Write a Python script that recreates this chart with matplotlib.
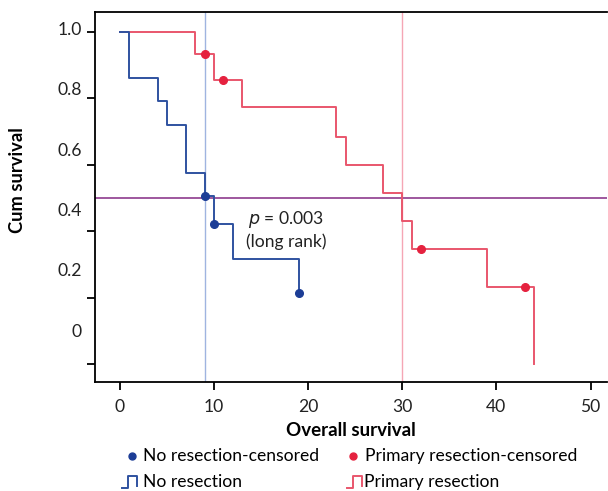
import matplotlib
matplotlib.use("Agg")
import matplotlib.pyplot as plt
from matplotlib.lines import Line2D

plt.rcParams['font.family'] = ['Lato', 'DejaVu Sans']

# Data
no_res_t = [0, 1, 4, 5, 7, 9, 10, 12, 19]
no_res_s = [1.0, 0.862, 0.792, 0.719, 0.576, 0.507, 0.423, 0.316, 0.213]
no_res_cens_t = [9, 10, 19]
no_res_cens_s = [0.507, 0.423, 0.213]

prim_t = [0, 8, 10, 13, 23, 24, 28, 30, 31, 39, 44]
prim_s = [1.0, 0.934, 0.856, 0.773, 0.685, 0.600, 0.516, 0.430, 0.345, 0.233, 0.0]
prim_cens_t = [9, 11, 32, 43]
prim_cens_s = [0.934, 0.856, 0.345, 0.233]

median_line = 0.5
median_no_res = 9
median_prim = 30

xticks = [0, 10, 20, 30, 40, 50]
ytick_vals = [1.0, 0.8, 0.6, 0.4, 0.2, 0.0]
ytick_labels = ['1.0', '0.8', '0.6', '0.4', '0.2', '0']

blue_line = '#2f52a0'
blue_dot = '#1c3d96'
red_line = '#e9566c'
red_dot = '#e5223f'
txt = '#222222'
FS = 12.6

fig = plt.figure(figsize=(6.08, 4.91), dpi=100)
W, H = 608, 491
ax = fig.add_axes([95 / W, 1 - 382 / H, (607 - 95) / W, (382 - 12) / H])
ax.set_xlim(-2.65, 51.75)
ax.set_ylim(-0.054, 1.060)

ax.axvline(median_no_res, color='#9fb4e0', lw=1.0, zorder=1)
ax.axvline(median_prim, color='#f5a6b5', lw=1.0, zorder=1)
ax.axhline(median_line, color='#8e3b8e', lw=1.2, zorder=1)

ax.step(prim_t, prim_s, where='post', color=red_line, lw=1.4, zorder=2)
ax.step(no_res_t, no_res_s, where='post', color=blue_line, lw=1.4, zorder=3)
ax.plot(prim_cens_t, prim_cens_s, 'o', color=red_dot, ms=5.5, zorder=4)
ax.plot(no_res_cens_t, no_res_cens_s, 'o', color=blue_dot, ms=5.5, zorder=4)

ax.text(17.7, 0.434, r'$p$ = 0.003', ha='center', va='center', fontsize=FS, color=txt)
ax.text(17.7, 0.368, '(long rank)', ha='center', va='center', fontsize=FS, color=txt)

for s in ['top', 'left', 'bottom']:
    ax.spines[s].set_linewidth(1.3)
ax.spines['right'].set_visible(False)

ax.set_xticks(xticks)
ax.set_xticklabels([str(v) for v in xticks], fontsize=FS, color=txt)
ax.tick_params(axis='x', length=6, width=1.3, pad=6)
ax.set_yticks(ytick_vals)
ax.set_yticklabels([''] * len(ytick_vals))
ax.tick_params(axis='y', length=6, width=1.3)

# y tick labels (offset from tick marks as in the reference)
for i, lab in enumerate(ytick_labels):
    ax.text(-0.026, 1.006 - i * 0.1817, lab, transform=ax.get_yaxis_transform(),
            ha='right', va='center', fontsize=FS, color=txt)

ax.set_xlabel('Overall survival', fontsize=13.5, fontweight='bold', labelpad=5)
fig.text(18 / W, 1 - 180 / H, 'Cum survival', rotation=90, ha='center', va='center',
         fontsize=13.2, fontweight='bold')

# Legend (manual)
def fx(px):
    return px / W

def fy(py):
    return 1 - py / H

fig.add_artist(Line2D([fx(132)], [fy(456)], marker='o', color=blue_dot, ms=5, lw=0))
fig.text(fx(143), fy(456), 'No resection-censored', ha='left', va='center', fontsize=FS)
fig.add_artist(Line2D([fx(353)], [fy(456)], marker='o', color=red_dot, ms=5, lw=0))
fig.text(fx(365), fy(456), 'Primary resection-censored', ha='left', va='center', fontsize=FS)

fig.add_artist(Line2D([fx(122), fx(128), fx(128), fx(137), fx(137)],
                      [fy(488), fy(488), fy(476), fy(476), fy(486)], color=blue_line, lw=1.4))
fig.text(fx(143), fy(482), 'No resection', ha='left', va='center', fontsize=FS)
fig.add_artist(Line2D([fx(347), fx(353), fx(353), fx(362), fx(362)],
                      [fy(488), fy(488), fy(476), fy(476), fy(486)], color=red_line, lw=1.4))
fig.text(fx(364), fy(482), 'Primary resection', ha='left', va='center', fontsize=FS)

fig.savefig('out.png', dpi=100)
